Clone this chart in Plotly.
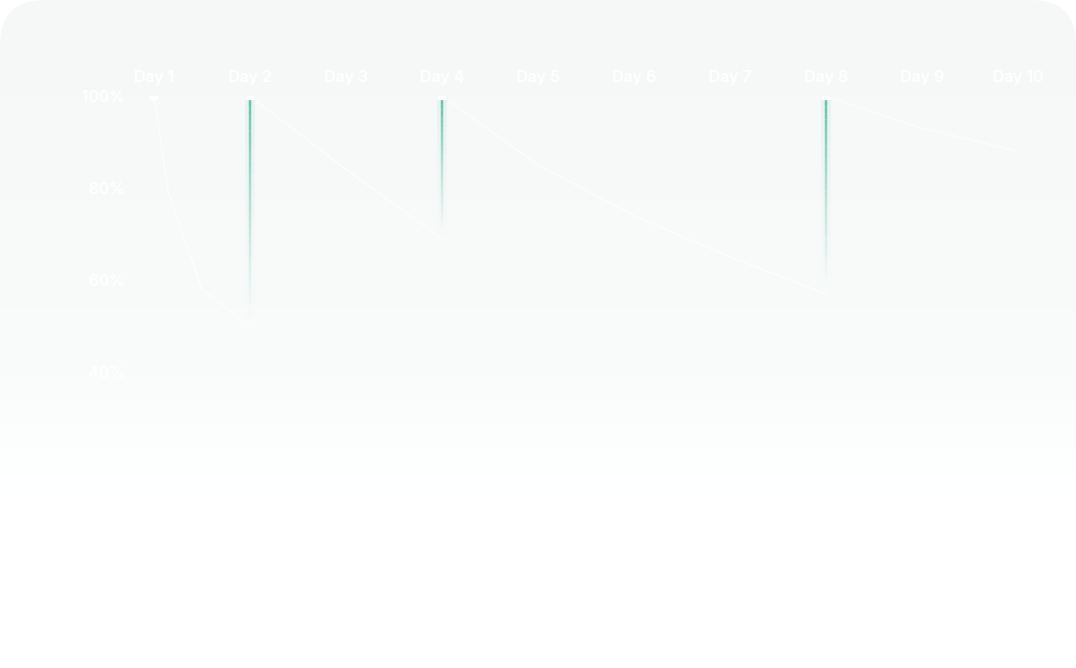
import plotly.graph_objects as go

# Retention curve
days = [1, 1.15, 1.5, 2, 2, 3, 4, 4, 5, 6, 7, 8, 8, 9, 10]
retention = [100, 79, 58, 50, 100, 84, 69, 100, 85, 74, 65, 57, 100, 93, 88]

# review days (retention jumps back to 100%)
review_days = [2, 4, 8]
dot_days = [1, 2, 4, 8]

x_ticks = list(range(1, 11))
x_labels = ["Day %d" % d for d in x_ticks]
y_ticks = [0, 20, 40, 60, 80, 100]
y_labels = ["%d%%" % v for v in y_ticks]

W, H = 1076, 668
GREEN = (88, 189, 163)


def px(x):
    return x / W


def py(y):
    return 1 - y / H


fig = go.Figure()

# background card: rounded top, light grey fading to white
shapes = []
r = 45
card = ("M 0,{a} Q 0,1 {b},1 L {c},1 Q 1,1 1,{a} L 1,{d} L 0,{d} Z"
        .format(a=py(r), b=px(r), c=px(W - r), d=py(60)))
shapes.append(dict(type="path", path=card, xref="paper", yref="paper",
                   fillcolor="rgb(246,248,248)", line=dict(width=0), layer="below"))
step = 4
for y0 in range(40, 520, step):
    if y0 < 360:
        t = (y0 - 40) / 320
        c = 246 + 3 * t
    else:
        t = min(1, (y0 - 360) / 150)
        c = 249 + 6 * t
    g = min(255, c + 1.5)
    col = "rgb(%d,%d,%d)" % (round(c), round(g), round(g))
    shapes.append(dict(type="rect", xref="paper", yref="paper",
                       x0=0, x1=1, y0=py(y0 + step), y1=py(y0),
                       fillcolor=col, line=dict(width=0), layer="below"))

# green review markers: vertical lines fading out downwards,
# starting just under the white dot
for d in review_days:
    i = days.index(d)  # first occurrence = value just before the review
    low = retention[i]
    top = 99.1
    n = 30
    for k in range(n):
        t0 = k / n
        t1 = (k + 1) / n
        y0 = top - (top - low) * t0
        y1 = top - (top - low) * t1
        a = 0.9 * (1 - t0) ** 1.3
        shapes.append(dict(type="line", xref="x", yref="y", x0=d, x1=d, y0=y0, y1=y1,
                           line=dict(color="rgba(%d,%d,%d,%.3f)" % (GREEN + (a * 0.10,)), width=10),
                           layer="above"))
        shapes.append(dict(type="line", xref="x", yref="y", x0=d, x1=d, y0=y0, y1=y1,
                           line=dict(color="rgba(%d,%d,%d,%.3f)" % (GREEN + (a,)), width=2.4),
                           layer="above"))

fig.add_trace(go.Scatter(
    x=days, y=retention, mode="lines",
    line=dict(color="rgba(255,255,255,0.6)", width=1.3),
    hoverinfo="skip", showlegend=False,
))
fig.add_trace(go.Scatter(
    x=dot_days, y=[100] * len(dot_days), mode="markers",
    marker=dict(color="#ffffff", size=9, line=dict(width=0)),
    hoverinfo="skip", showlegend=False,
))

fig.update_layout(
    width=W, height=H,
    margin=dict(l=0, r=0, t=0, b=0),
    paper_bgcolor="#ffffff",
    plot_bgcolor="rgba(0,0,0,0)",
    shapes=shapes,
    font=dict(family="Inter, Lato, sans-serif", color="#ffffff", size=16, weight=500),
)
fig.update_xaxes(
    domain=[0, 1], range=[1 - 154 / 96, 1 + (W - 154) / 96],
    side="top", tickvals=x_ticks, ticktext=x_labels,
    showgrid=False, zeroline=False, showline=False, ticks="",
    ticklabelstandoff=10, automargin=False,
)
fig.update_yaxes(
    domain=[py(556), py(96)], range=[0, 100],
    anchor="free", position=px(128),
    tickvals=y_ticks, ticktext=y_labels,
    showgrid=False, zeroline=False, showline=False, ticks="",
    ticklabelstandoff=3, automargin=False,
)

fig.write_html("out.html", config={"displayModeBar": False},
               post_script="document.body.style.margin='0';")
